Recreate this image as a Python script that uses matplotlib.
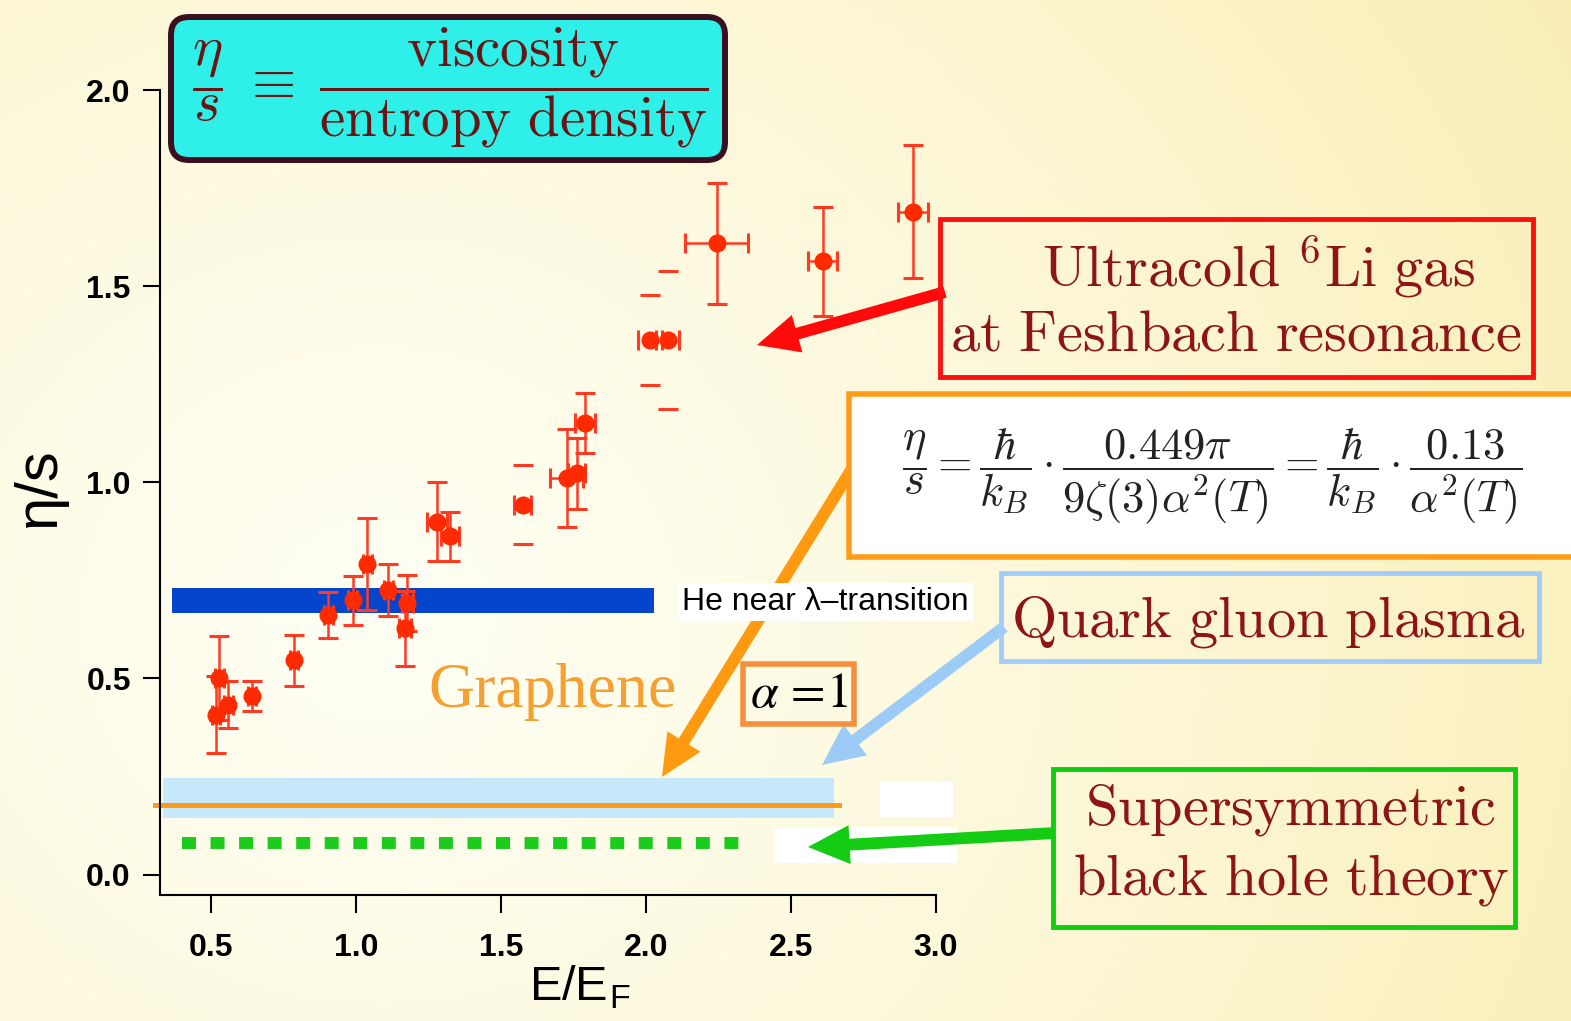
import matplotlib.pyplot as plt
import numpy as np
from matplotlib.patches import Rectangle, FancyBboxPatch, FancyArrowPatch

plt.rcParams['mathtext.fontset'] = 'cm'
plt.rcParams['font.family'] = ['Liberation Sans', 'DejaVu Sans']

# 6Li data: E/E_F, eta/s and errors
li_x = [0.517, 0.528, 0.560, 0.641, 0.786, 0.905, 0.989, 1.039, 1.111, 1.169,
        1.177, 1.278, 1.324, 1.727, 1.761, 1.790, 2.244, 2.609, 2.922]
li_y = [0.408, 0.500, 0.433, 0.456, 0.546, 0.662, 0.699, 0.792, 0.726, 0.628,
        0.692, 0.900, 0.862, 1.010, 1.023, 1.151, 1.609, 1.563, 1.690]
li_yerr = [0.097, 0.107, 0.060, 0.038, 0.065, 0.058, 0.063, 0.118, 0.067, 0.095,
           0.072, 0.100, 0.063, 0.125, 0.090, 0.077, 0.155, 0.140, 0.170]
li_xerr = [0.015, 0.015, 0.015, 0.015, 0.015, 0.015, 0.015, 0.015, 0.015, 0.02,
           0.02, 0.034, 0.03, 0.057, 0.03, 0.034, 0.108, 0.050, 0.052]

# points where only the caps of the error bars show
cap_x = [1.575, 2.014, 2.075]
cap_y = [0.943, 1.363, 1.363]
cap_yerr = [0.100, 0.115, 0.175]
cap_xerr = [0.03, 0.04, 0.04]

# reference levels
he_x = [0.366, 2.028]
he_lo, he_hi = 0.667, 0.731
qgp_x = [0.335, 2.648]
qgp_lo, qgp_hi = 0.145, 0.245
graphene_x = [0.307, 2.666]
graphene_level = 0.177
susy_x = [0.40, 2.334]
susy_level = 0.0796

W, H = 1571, 1021
fig = plt.figure(figsize=(W / 100, H / 100), dpi=100)

# yellowish background
bg = fig.add_axes([0, 0, 1, 1], zorder=0)
yy, xx = np.mgrid[0:H, 0:W]
t = np.clip(np.hypot(xx - 380, (yy - 620) * 1.1) / 1400, 0, 1) ** 1.2
c0 = np.array([255, 255, 244]) / 255
c1 = np.array([250, 238, 180]) / 255
bg.imshow(c0 + (c1 - c0) * t[..., None], aspect='auto', extent=[0, W, H, 0])
bg.axis('off')

ax = fig.add_axes([160 / W, 1 - 895 / H, 776 / W, 805 / H], zorder=1)
ax.patch.set_alpha(0)
ax.set_xlim(0.324, 3.0)
ax.set_ylim(-0.052, 2.0)

ax.fill_between(he_x, he_lo, he_hi, color='#0545cc', lw=0, zorder=1)
ax.fill_between(qgp_x, qgp_lo, qgp_hi, color='#c6e8fa', lw=0, zorder=1)
ax.plot(graphene_x, [graphene_level] * 2, color='#ff9a1a', lw=3.6, clip_on=False, zorder=2)
ax.plot(susy_x, [susy_level] * 2, color='#1ccc1c', lw=8.6, ls=(0, (1.17, 1.22)), zorder=2)

ax.errorbar(li_x, li_y, yerr=li_yerr, xerr=li_xerr, fmt='o', color='#ff2a00',
            ecolor='#ff3a22', ms=12, elinewidth=1.8, capsize=7, capthick=2.2, zorder=3)
eb = ax.errorbar(cap_x, cap_y, yerr=cap_yerr, xerr=cap_xerr, fmt='o', color='#ff2a00',
                 ecolor='#ff3a22', ms=12, elinewidth=1.8, capsize=7, capthick=2.2, zorder=3)
for lc in eb[2]:
    lc.set_visible(False)

ax.spines['top'].set_visible(False)
ax.spines['right'].set_visible(False)
ax.spines['left'].set_linewidth(1.5)
ax.spines['bottom'].set_linewidth(1.5)
ax.set_xticks([0.5, 1.0, 1.5, 2.0, 2.5, 3.0])
ax.set_yticks([0.0, 0.5, 1.0, 1.5, 2.0])
ax.tick_params(axis='x', direction='out', length=13, width=1.5, labelsize=23, pad=14)
ax.tick_params(axis='y', direction='out', length=12, width=1.5, labelsize=23, pad=9)
for lab in ax.get_xticklabels() + ax.get_yticklabels():
    lab.set_fontweight('bold')
ax.set_xlabel(r'E/E$_\mathregular{F}$', fontsize=35)
ax.set_ylabel('η/s', fontsize=43)
ax.xaxis.set_label_coords(0.541, -0.085)
ax.yaxis.set_label_coords(-0.12, 0.506)

# annotations in pixel coordinates
ov = fig.add_axes([0, 0, 1, 1], zorder=2)
ov.set_xlim(0, W)
ov.set_ylim(H, 0)
ov.axis('off')

ov.add_patch(Rectangle((880, 782), 73, 35, fc='white', ec='none'))
ov.add_patch(Rectangle((775, 827), 183, 36, fc='white', ec='none'))


def arrow(p0, p1, color):
    ov.add_patch(FancyArrowPatch(p0, p1, arrowstyle='simple,head_length=30,head_width=28,tail_width=8.5',
                                 mutation_scale=1, color=color, lw=0, shrinkA=0, shrinkB=0))


arrow((945, 292), (757, 345), '#ff0a0a')
arrow((856, 462), (662, 777), '#ff9a10')
arrow((1004, 627), (822, 765), '#9ccbf7')
arrow((1055, 833), (808, 847), '#14cc14')

ov.text(682, 602, 'He near λ–transition', fontsize=23, va='center', ha='left',
        bbox=dict(fc='white', ec='none', pad=3), zorder=5)

dark_red = '#8e1515'
ov.add_patch(FancyBboxPatch((171, 17), 554, 143, boxstyle='round,pad=0,rounding_size=18',
                            fc='#2ff0e8', ec='#3a0f1f', lw=4.3))
ov.text(450, 88, r'$\dfrac{\eta}{s}\;\equiv\;\dfrac{\mathrm{viscosity}}{\mathrm{entropy\ density}}$',
        fontsize=41, color='#6a1515', ha='center', va='center')

ov.add_patch(Rectangle((940, 219), 593, 158, fc='none', ec='#ff1010', lw=3.5))
ov.text(1258, 268, r'$\mathrm{Ultracold\ {}^{6}Li\ gas}$', fontsize=42, color=dark_red,
        ha='center', va='center')
ov.text(1236, 335, r'$\mathrm{at\ Feshbach\ resonance}$', fontsize=42, color=dark_red,
        ha='center', va='center')

ov.add_patch(Rectangle((849, 394), 740, 163, fc='white', ec='#ff9d1a', lw=4, clip_on=False))
ov.text(1212, 476, r'$\dfrac{\eta}{s} = \dfrac{\hbar}{k_B}\cdot\dfrac{0.449\pi}{9\zeta(3)\alpha^2(T)}'
        r' = \dfrac{\hbar}{k_B}\cdot\dfrac{0.13}{\alpha^2(T)}$',
        fontsize=32, color='#222222', ha='center', va='center')

ov.add_patch(Rectangle((1001, 573), 538, 88, fc='none', ec='#a0cdfa', lw=3.5))
ov.text(1268, 622, r'$\mathrm{Quark\ gluon\ plasma}$', fontsize=42, color=dark_red,
        ha='center', va='center')

ov.add_patch(Rectangle((1053, 769), 462, 158, fc='none', ec='#11cc11', lw=3.5))
ov.text(1290, 810, r'$\mathrm{Supersymmetric}$', fontsize=42, color=dark_red,
        ha='center', va='center')
ov.text(1291, 880, r'$\mathrm{black\ hole\ theory}$', fontsize=42, color=dark_red,
        ha='center', va='center')

ov.text(553, 692, 'Graphene', fontsize=46, family='Liberation Serif', color='#f5a032',
        ha='center', va='center')
ov.add_patch(Rectangle((743, 664), 111, 60, fc='none', ec='#f59040', lw=4))
ov.text(799, 694, r'$\alpha\,=\!1$', fontsize=36, math_fontfamily='stix', color='black',
        ha='center', va='center')

fig.savefig('out.png', dpi=100)
